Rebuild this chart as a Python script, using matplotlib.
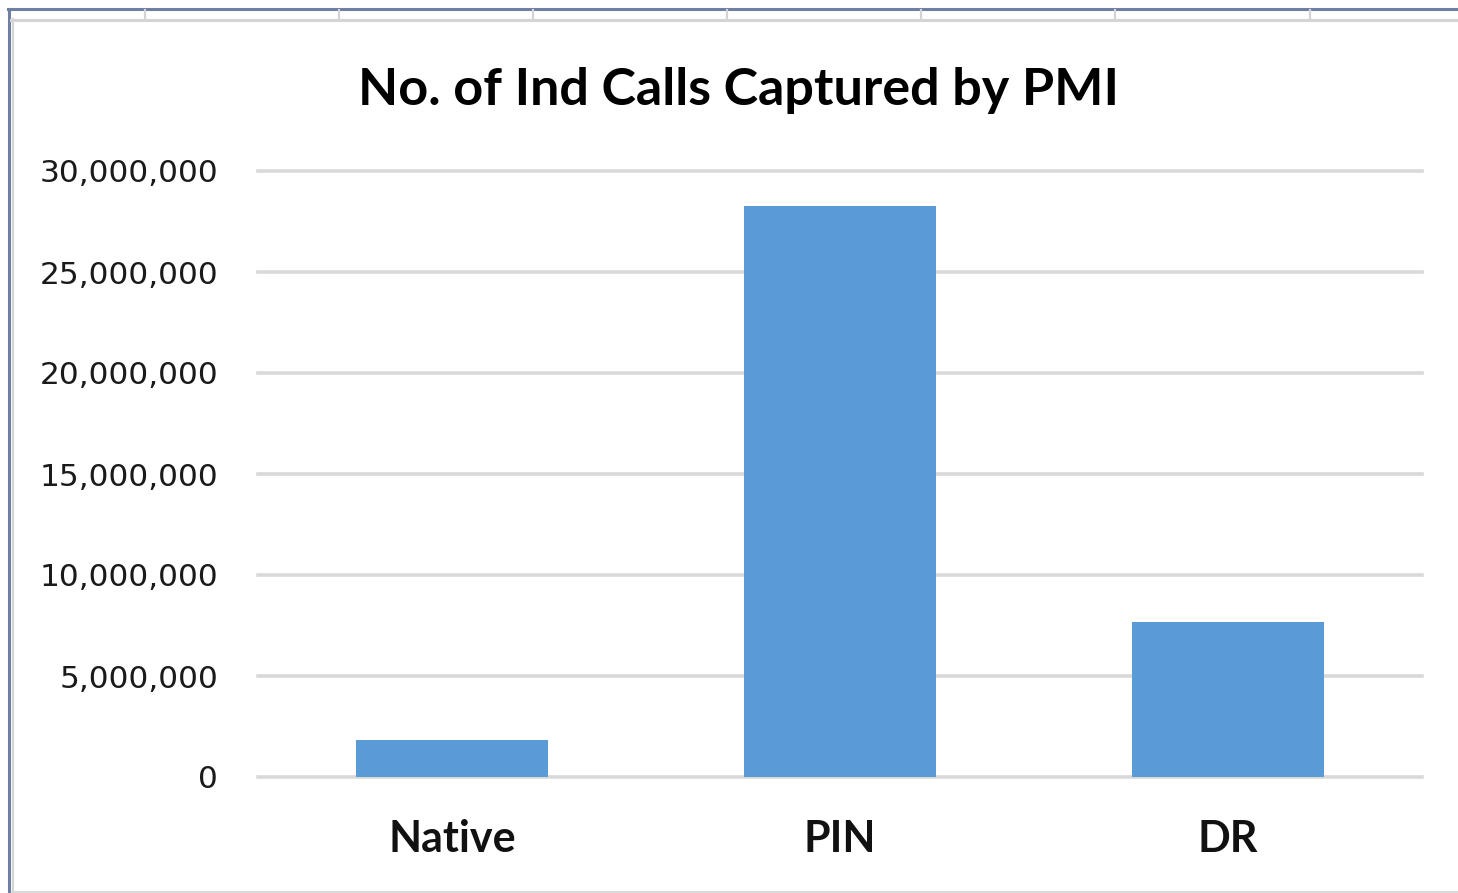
import matplotlib
matplotlib.use("Agg")
import matplotlib.pyplot as plt
from matplotlib.lines import Line2D
from matplotlib.ticker import FuncFormatter

categories = ["Native", "PIN", "DR"]
calls = [1830000, 28270000, 7670000]
y_ticks = [0, 5000000, 10000000, 15000000, 20000000, 25000000, 30000000]

plt.rcParams["font.family"] = ["Lato", "DejaVu Sans"]

fig = plt.figure(figsize=(14.58, 8.93), dpi=100)
W, H = 1458, 893

# spreadsheet frame around the chart object
def px_line(x0, y0, x1, y1, color, lw):
    fig.add_artist(Line2D([x0 / W, x1 / W], [1 - y0 / H, 1 - y1 / H],
                          transform=fig.transFigure, color=color, lw=lw))

px_line(8, 9, W, 9, "#6f7fa3", 2.2)
px_line(9, 9, 9, H, "#6f7fa3", 2.2)
px_line(11, 19.5, W, 19.5, "#d4d4d4", 2.2)
px_line(12.5, 19, 12.5, H, "#d4d4d4", 1.6)
px_line(12, 891.5, W, 891.5, "#d9d9d9", 1.6)
for x in [145, 339, 533, 727, 921, 1115, 1310]:
    px_line(x, 10, x, 19, "#d4d4d4", 1.6)

ax = fig.add_axes([258 / W, 1 - 777 / H, (1422 - 258) / W, (777 - 171) / H])
ax.bar(range(len(categories)), calls, width=0.495, color="#5b9bd5", zorder=3)

ax.set_xlim(-0.5, 2.5)
ax.set_ylim(0, 30000000)
ax.set_yticks(y_ticks)
ax.yaxis.set_major_formatter(FuncFormatter(lambda v, p: f"{int(v):,}"))
ax.set_xticks(range(len(categories)))
ax.set_xticklabels(categories, fontsize=31, fontweight="bold", color="#111111")
ax.tick_params(axis="y", length=0, pad=28.8)
ax.tick_params(axis="x", length=0, pad=30)
for lbl in ax.get_yticklabels():
    lbl.set_family("DejaVu Sans")
    lbl.set_fontsize(22.5)
    lbl.set_color("#1a1a1a")

ax.grid(axis="y", color="#d9d9d9", linewidth=2.6, zorder=0)
ax.set_axisbelow(True)
for sp in ax.spines.values():
    sp.set_visible(False)
for gl in ax.get_ygridlines():
    gl.set_clip_on(False)

fig.text(738 / W, 1 - 90 / H, "No. of Ind Calls Captured by PMI",
         ha="center", va="center", fontsize=37.5, fontweight="bold", color="#000000")

fig.savefig("out.png", dpi=100, facecolor="white")
